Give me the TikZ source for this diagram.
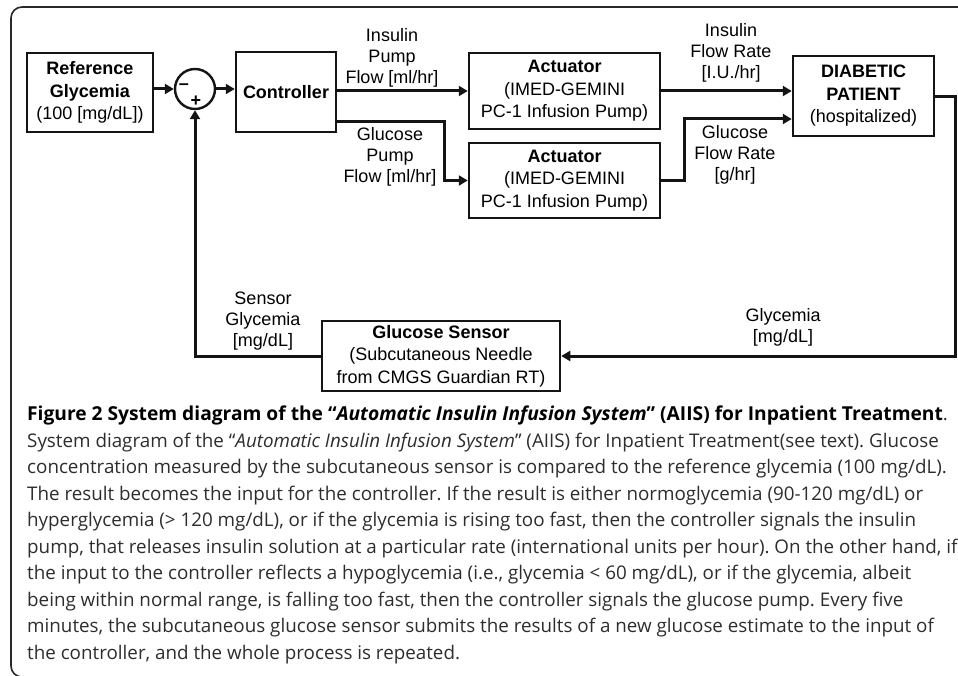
\documentclass[tikz,border=0pt]{standalone}
\usepackage{fontspec}
\setmainfont{Liberation Sans}
\newfontfamily\capfont{Open Sans}
\usetikzlibrary{arrows.meta,positioning,calc}
\definecolor{aiisline}{RGB}{20,20,20}
\definecolor{aiisframe}{RGB}{40,40,40}
\definecolor{aiistext}{RGB}{45,45,45}
\tikzset{
  blk/.style={draw=aiisline, line width=2.5pt, align=center, inner sep=0pt,
    font=\fontsize{18}{22.5}\selectfont},
  sumnode/.style={circle, draw=aiisline, line width=2.4pt, minimum size=40pt, inner sep=0pt},
  lbl/.style={align=center, font=\fontsize{18}{21}\selectfont, inner sep=0pt},
  arr/.style={-{Triangle[length=9pt,width=10pt]}, line width=3pt, aiisline},
  wire/.style={line width=3pt, aiisline}
}

\begin{document}
\frenchspacing
\begin{tikzpicture}[x=1pt,y=-1pt]
  \useasboundingbox (0,0) rectangle (958,676);
  \draw[aiisframe, line width=1.6pt, rounded corners=11pt] (11,677) rectangle (990,7);

  \node[blk, minimum width=126pt, minimum height=79pt] (ref) at (90,92.5)
    {\textbf{Reference}\\\textbf{Glycemia}\\(100 [mg/dL])};
  \node[sumnode] (sum) at (195,89) {};
  \node[font=\bfseries\fontsize{18}{18}\selectfont, inner sep=0pt] (minus) at (184,87) {--};
  \node[font=\bfseries\fontsize{18}{18}\selectfont, inner sep=0pt] (plus) at (196,101) {+};
  \node[blk, minimum width=100pt, minimum height=80pt] (ctrl) at (286,92) {\textbf{Controller}};
  \node[blk, minimum width=191pt, minimum height=76pt] (act1) at (564.5,91)
    {\textbf{Actuator}\\(IMED-GEMINI\\PC-1 Infusion Pump)};
  \node[blk, minimum width=191pt, minimum height=75pt] (act2) at (564.5,180.5)
    {\textbf{Actuator}\\(IMED-GEMINI\\PC-1 Infusion Pump)};
  \node[blk, minimum width=141pt, minimum height=80pt] (pat) at (863.5,96)
    {\textbf{DIABETIC}\\\textbf{PATIENT}\\(hospitalized)};
  \node[blk, minimum width=238pt, minimum height=70pt] (sens) at (441,356)
    {\textbf{Glucose Sensor}\\(Subcutaneous Needle\\from CMGS Guardian RT)};

  \draw[arr] (ref.east |- sum) -- (sum.west);
  \draw[arr] (sum.east) -- (sum.east -| ctrl.west);
  \draw[arr] (ctrl.east |- act1) -- (act1.west);
  \draw[arr] ($(ctrl.east)+(0,30)$) -- ++(107,0) |- (act2.west);
  \draw[arr] (act1.east) -- (act1.east -| pat.west);
  \draw[arr] (act2.east) -- ++(23,0) |- ($(pat.west)+(0,23)$);
  \draw[arr] ($(pat.east)+(0,1)$) -- ++(20,0) |- (sens.east);
  \draw[arr] (sens.west) -| (sum.south);

  \node[lbl] (insflow) at (392,58) {Insulin\\Pump\\Flow [ml/hr]};
  \node[lbl] (gluflow) at (390,157) {Glucose\\Pump\\Flow [ml/hr]};
  \node[lbl] (insrate) at (731,53) {Insulin\\Flow Rate\\{}[I.U./hr]};
  \node[lbl] (glurate) at (735,155) {Glucose\\Flow Rate\\{}[g/hr]};
  \node[lbl] (sensgly) at (263,321) {Sensor\\Glycemia\\{}[mg/dL]};
  \node[lbl] (gly) at (783,327) {Glycemia\\{}[mg/dL]};

  \node[anchor=north west, align=left, inner sep=0pt, text=aiistext,
    font=\capfont\fontsize{18.8}{26.5}\selectfont] (caption) at (27,406)
    {{\color{black}\bfseries\fontsize{19.2}{26.5}\selectfont Figure 2 System diagram of the “\textit{Automatic Insulin Infusion System}” (AIIS) for Inpatient Treatment}.\\
     System diagram of the “\textit{Automatic Insulin Infusion System}” (AIIS) for Inpatient Treatment(see text). Glucose\\
     concentration measured by the subcutaneous sensor is compared to the reference glycemia (100 mg/dL).\\
     The result becomes the input for the controller. If the result is either normoglycemia (90-120 mg/dL) or\\
     hyperglycemia (> 120 mg/dL), or if the glycemia is rising too fast, then the controller signals the insulin\\
     pump, that releases insulin solution at a particular rate (international units per hour). On the other hand, if\\
     the input to the controller reflects a hypoglycemia (i.e., glycemia < 60 mg/dL), or if the glycemia, albeit\\
     being within normal range, is falling too fast, then the controller signals the glucose pump. Every five\\
     minutes, the subcutaneous glucose sensor submits the results of a new glucose estimate to the input of\\
     the controller, and the whole process is repeated.};
\end{tikzpicture}
\end{document}
